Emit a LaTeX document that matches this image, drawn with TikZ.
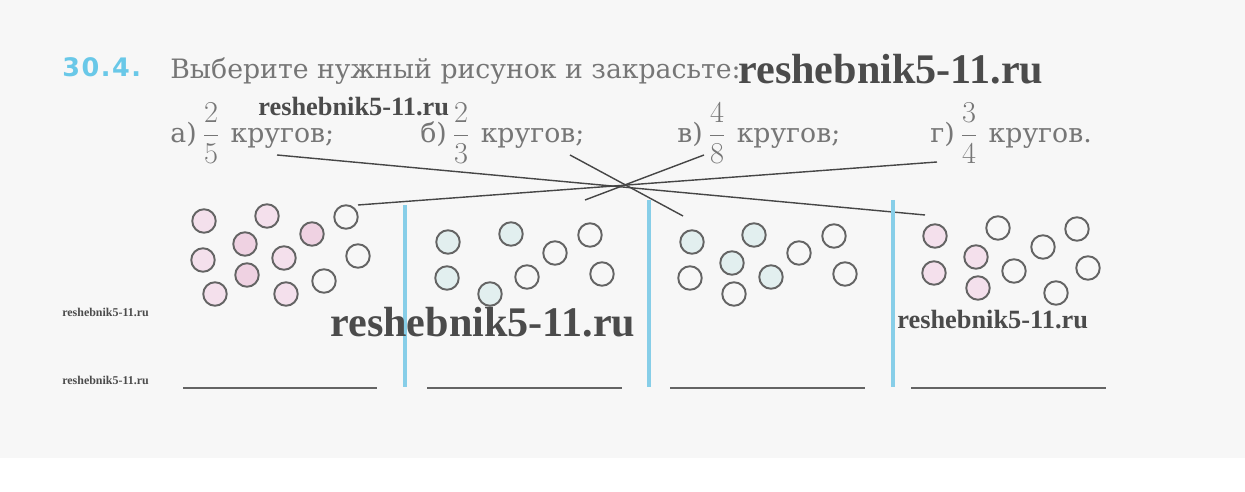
\documentclass[tikz,border=0pt]{standalone}
\usepackage{amsmath}
\usepackage{fontspec}
\setmainfont{DejaVu Serif}
\newfontfamily\numfont{DejaVu Sans}[LetterSpace=6]
\newfontfamily\wmfont{Liberation Serif}
\usepackage{tikz}
\definecolor{bggray}{RGB}{247,247,247}
\definecolor{inkgray}{RGB}{118,118,118}
\definecolor{numblue}{RGB}{105,200,232}
\definecolor{sepblue}{RGB}{135,206,232}
\definecolor{ringgray}{RGB}{100,100,100}
\definecolor{linkgray}{RGB}{70,70,70}
\definecolor{wmgray}{RGB}{75,75,75}
\definecolor{pinkfill}{RGB}{244,224,236}
\definecolor{pinkdeep}{RGB}{239,210,226}
\definecolor{mintfill}{RGB}{226,239,239}
\pgfdeclarelayer{bglayer}
\pgfdeclarelayer{edgelayer}
\pgfdeclarelayer{nodelayer}
\pgfsetlayers{bglayer,edgelayer,nodelayer,main}
\tikzstyle{ring}=[circle,draw=ringgray,line width=1.1pt,minimum size=0.47cm,inner sep=0pt]
\tikzstyle{pinkring}=[ring,fill=pinkfill]
\tikzstyle{deepring}=[ring,fill=pinkdeep]
\tikzstyle{mintring}=[ring,fill=mintfill]
\tikzstyle{itemtext}=[inner sep=0pt,anchor=base west,text=inkgray,font=\fontsize{15.2}{18}\selectfont]
\tikzstyle{wm}=[inner sep=0pt,anchor=base west,text=wmgray]
\tikzstyle{divider}=[line width=2.2pt,draw=sepblue]
\tikzstyle{answer}=[line width=0.8pt,draw=ringgray]
\tikzstyle{matchline}=[line width=0.8pt,draw=linkgray]
\newcommand{\bigfr}[2]{\hspace{3pt}{\fontsize{17}{20}\selectfont$\dfrac{#1}{#2}$}\hspace{6pt}}

\begin{document}
\begin{tikzpicture}[x=0.02cm,y=-0.02cm]
    \useasboundingbox (0,0) rectangle (1245,492);
    \begin{pgfonlayer}{bglayer}
        \fill [white] (0,0) rectangle (1245,492);
        \fill [bggray] (0,0) rectangle (1245,458);
    \end{pgfonlayer}

    \begin{pgfonlayer}{nodelayer}
        % task text
        \node [inner sep=0pt, anchor=base west, text=numblue, font=\numfont\bfseries\fontsize{14.5}{17}\selectfont] (num) at (62,77) {30.4.};
        \node [style = itemtext] (head) at (170,79) {Выберите нужный рисунок и закрасьте:};

        \node [style = itemtext] (qa) at (170,143) {а)\bigfr{2}{5}кругов;};
        \node [style = itemtext] (qb) at (420,143) {б)\bigfr{2}{3}кругов;};
        \node [style = itemtext] (qv) at (677,143) {в)\bigfr{4}{8}кругов;};
        \node [style = itemtext] (qg) at (930,143) {г)\bigfr{3}{4}кругов.};

        % first picture
        \node [style = pinkring] (p1) at (204,221) {};
        \node [style = pinkring] (p2) at (267,216) {};
        \node [style = ring] (p3) at (346,217) {};
        \node [style = deepring] (p4) at (245,244) {};
        \node [style = deepring] (p5) at (312,234) {};
        \node [style = pinkring] (p6) at (203,260) {};
        \node [style = pinkring] (p7) at (284,258) {};
        \node [style = ring] (p8) at (358,256) {};
        \node [style = deepring] (p9) at (247,275) {};
        \node [style = ring] (p10) at (324,281) {};
        \node [style = pinkring] (p11) at (215,294) {};
        \node [style = pinkring] (p12) at (286,294) {};

        % second picture
        \node [style = mintring] (m1) at (448,242) {};
        \node [style = mintring] (m2) at (511,234) {};
        \node [style = ring] (m3) at (590,235) {};
        \node [style = ring] (m4) at (555,253) {};
        \node [style = mintring] (m5) at (447,278) {};
        \node [style = ring] (m6) at (527,277) {};
        \node [style = ring] (m7) at (602,274) {};
        \node [style = mintring] (m8) at (490,294) {};

        % third picture
        \node [style = mintring] (t1) at (692,242) {};
        \node [style = mintring] (t2) at (754,235) {};
        \node [style = ring] (t3) at (834,236) {};
        \node [style = ring] (t4) at (799,253) {};
        \node [style = mintring] (t5) at (732,263) {};
        \node [style = ring] (t6) at (690,278) {};
        \node [style = mintring] (t7) at (771,277) {};
        \node [style = ring] (t8) at (845,274) {};
        \node [style = ring] (t9) at (734,294) {};

        % fourth picture
        \node [style = pinkring] (f1) at (935,236) {};
        \node [style = ring] (f2) at (998,228) {};
        \node [style = ring] (f3) at (1077,229) {};
        \node [style = ring] (f4) at (1043,247) {};
        \node [style = pinkring] (f5) at (976,257) {};
        \node [style = pinkring] (f6) at (934,273) {};
        \node [style = ring] (f7) at (1014,271) {};
        \node [style = ring] (f8) at (1088,268) {};
        \node [style = pinkring] (f9) at (978,288) {};
        \node [style = ring] (f10) at (1056,293) {};
    \end{pgfonlayer}

    \begin{pgfonlayer}{edgelayer}
        \coordinate (qa_end) at (277,155);
        \coordinate (qb_end) at (570,155);
        \coordinate (qv_end) at (704,155);
        \coordinate (qg_end) at (937,162);
        \coordinate (pic4) at (925,215);
        \coordinate (pic3) at (683,216);
        \coordinate (pic2) at (585,200);
        \coordinate (pic1) at (358,205);

        \draw [style = matchline] (qa_end) to (pic4);
        \draw [style = matchline] (qb_end) to (pic3);
        \draw [style = matchline] (qv_end) to (pic2);
        \draw [style = matchline] (qg_end) to (pic1);

        % dividers
        \coordinate (d1_top) at (405,205);
        \coordinate (d1_bot) at (405,387);
        \coordinate (d2_top) at (649,200);
        \coordinate (d2_bot) at (649,387);
        \coordinate (d3_top) at (893,200);
        \coordinate (d3_bot) at (893,387);
        \draw [style = divider] (d1_top) to (d1_bot);
        \draw [style = divider] (d2_top) to (d2_bot);
        \draw [style = divider] (d3_top) to (d3_bot);

        % answer lines
        \coordinate (a1_l) at (183,388);
        \coordinate (a1_r) at (377,388);
        \coordinate (a2_l) at (427,388);
        \coordinate (a2_r) at (622,388);
        \coordinate (a3_l) at (670,388);
        \coordinate (a3_r) at (865,388);
        \coordinate (a4_l) at (911,388);
        \coordinate (a4_r) at (1106,388);
        \draw [style = answer] (a1_l) to (a1_r);
        \draw [style = answer] (a2_l) to (a2_r);
        \draw [style = answer] (a3_l) to (a3_r);
        \draw [style = answer] (a4_l) to (a4_r);
    \end{pgfonlayer}

    % watermarks
    \node [style = wm, font=\wmfont\bfseries\fontsize{24}{28}\selectfont] (wm_top) at (738,84) {reshebnik5-11.ru};
    \node [style = wm, font=\wmfont\bfseries\fontsize{15}{18}\selectfont] (wm_small) at (258,116) {reshebnik5-11.ru};
    \node [style = wm, font=\wmfont\bfseries\fontsize{24}{28}\selectfont] (wm_mid) at (330,337) {reshebnik5-11.ru};
    \node [style = wm, font=\wmfont\bfseries\fontsize{15}{18}\selectfont] (wm_right) at (897,329) {reshebnik5-11.ru};
    \node [style = wm, font=\wmfont\bfseries\fontsize{6.8}{8}\selectfont] (wm_tiny1) at (62,317) {reshebnik5-11.ru};
    \node [style = wm, font=\wmfont\bfseries\fontsize{6.8}{8}\selectfont] (wm_tiny2) at (62,385) {reshebnik5-11.ru};
\end{tikzpicture}
\end{document}
